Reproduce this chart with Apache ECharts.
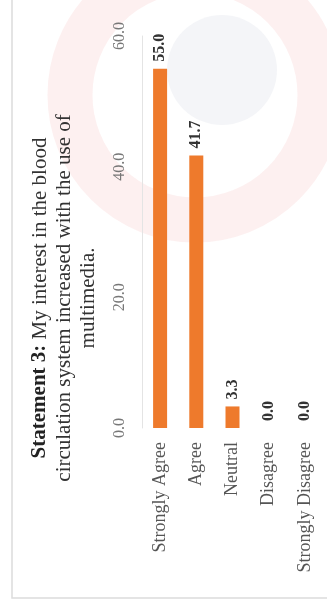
<!DOCTYPE html>
<html>
<head>
<meta charset="utf-8">
<script src="https://cdn.jsdelivr.net/npm/echarts@6/dist/echarts.min.js"></script>
<style>
html,body{margin:0;padding:0;background:#fff;}
#chart{width:327px;height:606px;}
</style>
</head>
<body>
<div id="chart"></div>
<script>
var categories = ['Strongly Agree', 'Agree', 'Neutral', 'Disagree', 'Strongly Disagree'];
var values = [55.0, 41.7, 3.3, 0.0, 0.0];
var valueTicks = [0, 20, 40, 60];
var titleBold = 'Statement 3:';
var titleRest = ' My interest in the blood\ncirculation system increased with the use of\nmultimedia.';

var chart = echarts.init(document.getElementById('chart'), null, {renderer: 'canvas'});
var serif = '"Liberation Serif", "DejaVu Serif", serif';
chart.setOption({
  backgroundColor: '#ffffff',
  animation: false,
  graphic: [
    {
      type: 'circle', silent: true, z: -10,
      shape: {cx: 195, cy: 95, r: 125},
      style: {fill: 'none', stroke: 'rgba(235,130,130,0.12)', lineWidth: 45}
    },
    {
      type: 'circle', silent: true, z: -10,
      shape: {cx: 222, cy: 70, r: 55},
      style: {fill: 'rgba(150,160,190,0.10)', stroke: 'none'}
    },
    {
      type: 'rect', silent: true, z: -5,
      shape: {x: 12, y: -10, width: 330, height: 608},
      style: {fill: 'none', stroke: '#dcdcdc', lineWidth: 1.5}
    },
    {
      type: 'text', x: 64, y: 298, rotation: Math.PI / 2,
      style: {
        text: '{b|' + titleBold + '}' + titleRest,
        font: '21px ' + serif,
        fill: '#333',
        align: 'center',
        verticalAlign: 'middle',
        lineHeight: 24,
        rich: {
          b: {fontWeight: 'bold', fontSize: 21, fontFamily: serif, fill: '#222', lineHeight: 24}
        }
      }
    }
  ],
  grid: {left: 142, right: 4, top: 36, bottom: 178, containLabel: false},
  xAxis: {
    type: 'category',
    data: categories,
    axisLine: {show: false},
    axisTick: {show: false},
    axisLabel: {
      rotate: 90, margin: 14, interval: 0,
      fontFamily: serif, fontSize: 18, color: '#555'
    }
  },
  yAxis: {
    type: 'value',
    min: valueTicks[0], max: valueTicks[valueTicks.length - 1], interval: 20,
    splitLine: {show: false},
    axisLine: {show: true, lineStyle: {color: '#e4e4e4'}},
    axisTick: {show: false},
    axisLabel: {
      rotate: 90, margin: 14,
      fontFamily: serif, fontSize: 16, color: '#777',
      formatter: function (v) { return v.toFixed(1); }
    }
  },
  series: [{
    type: 'bar',
    data: values,
    barWidth: 14,
    itemStyle: {color: '#EE7A2C'},
    label: {
      show: true, position: 'top', rotate: 90, distance: 7,
      align: 'left', verticalAlign: 'middle',
      fontFamily: serif, fontSize: 16, fontWeight: 'bold', color: '#333',
      formatter: function (p) { return p.value.toFixed(1); }
    }
  }]
});
</script>
</body>
</html>
